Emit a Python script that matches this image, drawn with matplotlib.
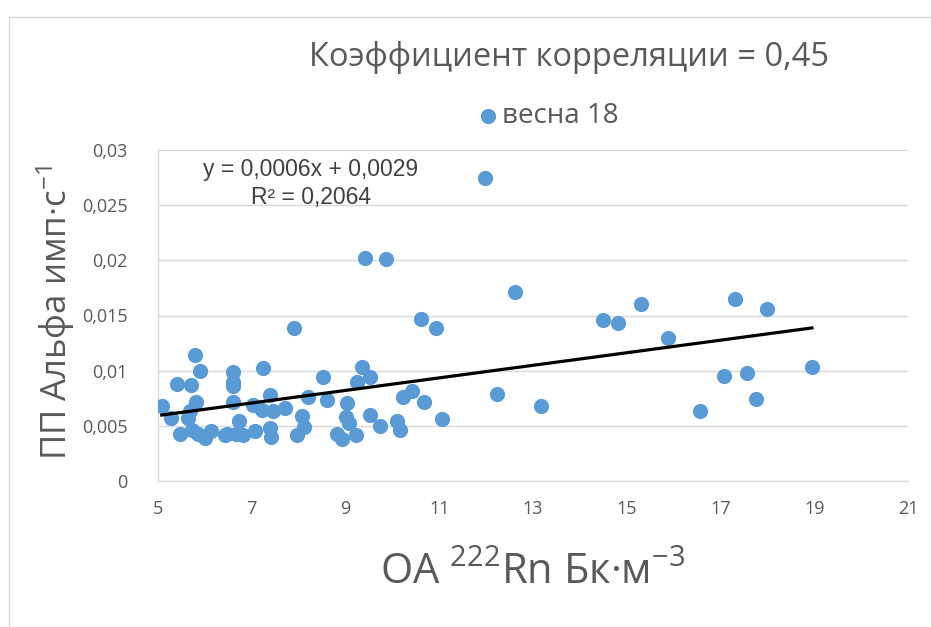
import numpy as np
import matplotlib
matplotlib.use("Agg")
import matplotlib.pyplot as plt
from matplotlib.patches import Rectangle
from matplotlib.ticker import FuncFormatter

plt.rcParams['font.family'] = ['Open Sans', 'DejaVu Sans']
plt.rcParams['mathtext.fontset'] = 'custom'
plt.rcParams['mathtext.rm'] = 'Open Sans'
plt.rcParams['mathtext.default'] = 'regular'

# --- data ---
radon = [5.08, 5.27, 5.41, 5.47, 5.65, 5.68, 5.70, 5.72, 5.78, 5.82,
         5.86, 5.90, 6.00, 6.14, 6.42, 6.47, 6.59, 6.59, 6.59, 6.60,
         6.66, 6.72, 6.82, 7.02, 7.06, 7.21, 7.23, 7.39, 7.39, 7.41,
         7.46, 7.71, 7.91, 7.96, 8.07, 8.11, 8.21, 8.52, 8.60, 8.82,
         8.92, 9.00, 9.03, 9.07, 9.22, 9.24, 9.35, 9.42, 9.53, 9.53,
         9.73, 9.86, 10.10, 10.17, 10.22, 10.41, 10.61, 10.67, 10.92, 11.05,
         11.98, 12.24, 12.61, 13.17, 14.49, 14.81, 15.31, 15.88, 16.56, 17.07,
         17.31, 17.56, 17.76, 18.00, 18.95]
alpha = [0.0068, 0.0057, 0.0088, 0.0043, 0.0057, 0.0063, 0.0087, 0.0046, 0.0114, 0.0072,
         0.0043, 0.0100, 0.0039, 0.0045, 0.0042, 0.0043, 0.0099, 0.0090, 0.0086, 0.0072,
         0.0043, 0.0054, 0.0042, 0.0069, 0.0045, 0.0064, 0.0102, 0.0078, 0.0048, 0.0040,
         0.0063, 0.0066, 0.0139, 0.0042, 0.0059, 0.0049, 0.0076, 0.0094, 0.0073, 0.0043,
         0.0038, 0.0058, 0.0071, 0.0053, 0.0042, 0.0090, 0.0103, 0.0202, 0.0094, 0.0060,
         0.0050, 0.0201, 0.0054, 0.0046, 0.0076, 0.0082, 0.0147, 0.0072, 0.0139, 0.0056,
         0.0275, 0.0079, 0.0171, 0.0068, 0.0146, 0.0143, 0.0160, 0.0130, 0.0063, 0.0095,
         0.0165, 0.0098, 0.0074, 0.0156, 0.0103]

series_name = "весна 18"
title = "Коэффициент корреляции = 0,45"
eq_text = "y = 0,0006x + 0,0029"
r2_text = "R² = 0,2064"
x_ticks = [5, 7, 9, 11, 13, 15, 17, 19, 21]
y_ticks = [0, 0.005, 0.01, 0.015, 0.02, 0.025, 0.03]


# pixel -> figure fraction
def fx(px):
    return px / 931


def fy(py):
    return 1 - py / 627


fig = plt.figure(figsize=(9.31, 6.27), dpi=100)
ax = fig.add_axes([fx(158), fy(481), 750 / 931, 331 / 627])

# chart area border (only left/top visible in the crop)
fig.add_artist(Rectangle((fx(9), -0.1), 1.5, 1.1 - 17 / 627, transform=fig.transFigure,
                         fill=False, edgecolor='#D9D9D9', linewidth=1.0))

ax.scatter(radon, alpha, s=120, color='#5B9BD5', linewidths=0, zorder=3, label=series_name)

# linear trend
k, b = np.polyfit(radon, alpha, 1)
xs = np.array([min(radon), max(radon)])
ax.plot(xs, k * xs + b, color='black', linewidth=2.3, zorder=4)

ax.set_xlim(5, 21)
ax.set_ylim(0, 0.03)
ax.set_xticks(x_ticks)
ax.set_yticks(y_ticks)
ax.yaxis.set_major_formatter(FuncFormatter(lambda v, p: f"{v:g}".replace('.', ',')))
ax.tick_params(length=0, labelsize=13, labelcolor='#595959')
ax.tick_params(axis='y', pad=22)
ax.tick_params(axis='x', pad=14)
ax.grid(axis='y', color='#D9D9D9', linewidth=1.0)
ax.set_axisbelow(True)
for s in ['top', 'right']:
    ax.spines[s].set_visible(False)
for s in ['left', 'bottom']:
    ax.spines[s].set_color('#D9D9D9')
    ax.spines[s].set_linewidth(1.0)

fig.text(fx(311), fy(170), eq_text, fontsize=16.5, family='Liberation Sans',
         color='#404040', ha='center', va='center')
fig.text(fx(311), fy(197), r2_text, fontsize=16.5, family='Liberation Sans',
         color='#404040', ha='center', va='center')

fig.text(fx(569), fy(58), title, fontsize=23.5, color='#595959', ha='center', va='center')
ax.legend(loc='center', bbox_to_anchor=(fx(548), fy(116)), bbox_transform=fig.transFigure,
          frameon=False, fontsize=20, handlelength=0.8, handletextpad=0.1,
          labelcolor='#595959', markerscale=1.0)

fig.text(fx(533), fy(573), r"ОА $^{222}$Rn Бк·м$^{-3}$", fontsize=30, color='#595959',
         ha='center', va='center')
fig.text(fx(56), fy(313), r"ПП Альфа имп·с$^{-1}$", fontsize=25, color='#595959',
         ha='center', va='center', rotation=90)

fig.savefig("out.png", dpi=100)
